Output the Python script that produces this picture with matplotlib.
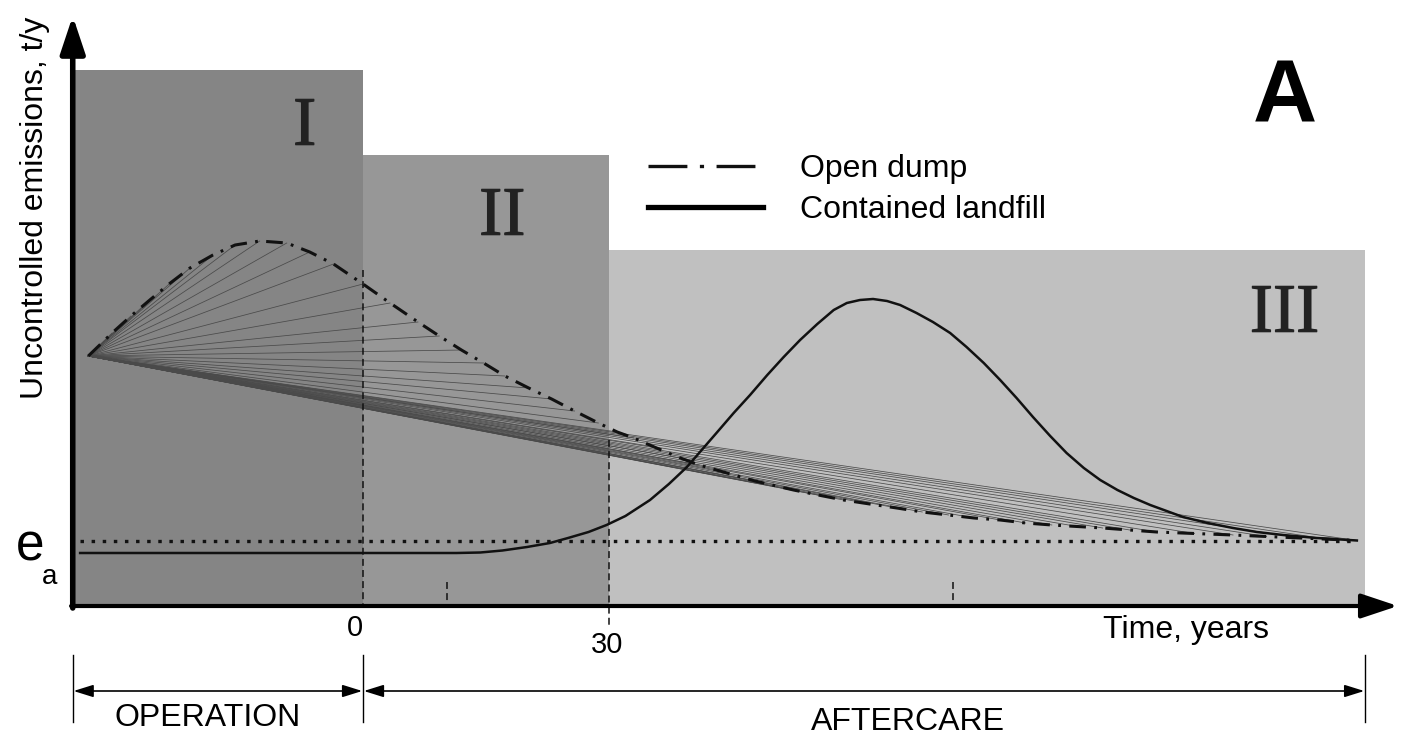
import matplotlib.pyplot as plt
import matplotlib.patheffects as pe
from matplotlib.lines import Line2D

plt.rcParams['font.family'] = ['Liberation Sans', 'DejaVu Sans']
plt.rcParams['lines.scale_dashes'] = False

# phases I, II, III (years, emission units)
phase_labels = ['I', 'II', 'III']
phase_start = [-35.4, 0, 30]
phase_end = [0, 30, 122.2]
phase_top = [53.6, 45.1, 35.6]
phase_colors = ['#858585', '#979797', '#c0c0c0']
phase_label_x = [-7.1, 17.0, 112.4]
phase_label_y = [47.8, 38.8, 29.1]

# open dump curve
dump_t = [-33.5, -30.6, -28.3, -26.0, -23.5, -21.1, -18.3, -15.6, -12.6, -9.3,
          -6.5, -3.6, 0.0, 3.3, 6.7, 9.3, 12.0, 14.7, 17.3, 20.2, 23.0, 25.8,
          28.7, 31.0, 33.0, 35.8, 38.7, 41.0, 43.1, 47.8, 52.5, 55.5, 58.6,
          61.8, 65.1, 68.2, 71.4, 74.5, 77.7, 80.8, 84.0, 87.1, 90.2, 93.5,
          96.8, 101.4, 106.1, 110.2, 114.3, 117.7, 121.2]
dump_e = [25.0, 27.3, 29.0, 30.6, 32.3, 33.8, 35.1, 36.1, 36.5, 36.3,
          35.4, 34.2, 32.2, 30.3, 28.4, 27.0, 25.6, 24.3, 23.0, 21.8, 20.7, 19.5,
          18.3, 17.4, 16.8, 15.8, 14.8, 14.1, 13.6, 12.5, 11.6, 11.1, 10.6,
          10.2, 9.8, 9.4, 9.1, 8.8, 8.6, 8.3, 8.1, 7.95, 7.8, 7.6,
          7.4, 7.25, 7.1, 6.95, 6.8, 6.68, 6.55]

# contained landfill curve
fill_t = [-34.5, 0.0, 11.4, 14.3, 17.0, 20.0, 22.8, 25.0, 27.5, 29.7, 32.0,
          35.0, 37.3, 39.5, 41.3, 43.1, 45.2, 47.2, 49.3, 51.3, 53.3, 55.4,
          57.4, 59.0, 60.6, 62.2, 63.9, 65.5, 67.5, 69.5, 71.6, 73.6, 75.7,
          77.7, 79.7, 81.7, 83.8, 85.8, 87.9, 89.9, 92.0, 94.0, 96.0, 98.0,
          100.0, 103.0, 106.1, 109.0, 112.2, 116.3, 121.2]
fill_e = [5.3, 5.3, 5.3, 5.35, 5.55, 5.9, 6.3, 6.8, 7.4, 8.1, 9.0,
          10.6, 12.2, 13.9, 15.6, 17.3, 19.3, 21.1, 23.1, 24.9, 26.6, 28.2,
          29.6, 30.3, 30.6, 30.7, 30.5, 30.1, 29.3, 28.4, 27.3, 25.9, 24.3,
          22.6, 20.8, 18.9, 17.0, 15.3, 13.8, 12.6, 11.6, 10.8, 10.1, 9.5,
          8.9, 8.3, 7.8, 7.4, 7.1, 6.8, 6.55]

ea = 6.5
small_marks = [10.2, 72.0]

fig = plt.figure(figsize=(14.16, 7.40), dpi=100)
ax = fig.add_axes([0, 0, 1, 1])
ax.set_xlim(-44.27, 128.41)
ax.set_ylim(-13.4, 60.6)
ax.axis('off')

# shaded phases
for s, e, h, c in zip(phase_start, phase_end, phase_top, phase_colors):
    ax.bar(s, h, width=e - s, align='edge', color=c, zorder=0)
for lab, x, y in zip(phase_labels, phase_label_x, phase_label_y):
    ax.text(x, y, lab, fontsize=50, family='Liberation Serif', color='#222222',
            ha='center', va='center',
            path_effects=[pe.withStroke(linewidth=0.8, foreground='#222222')])

# fan of chords from the starting point to the open dump curve
for t, e in zip(dump_t[1:], dump_e[1:]):
    ax.plot([dump_t[0], t], [dump_e[0], e], color='#4a4a4a', lw=0.55, zorder=2)

ax.plot(dump_t, dump_e, color='#111111', lw=2.2, dashes=(12, 6, 2, 6), zorder=3)
ax.plot(fill_t, fill_e, color='#111111', lw=1.8, zorder=3)
ax.plot([-34.5, 121.2], [ea, ea], color='#111111', lw=2.4, dashes=(2.5, 5.5), zorder=3)

# dashed guide lines at 0 and 30 years
ax.plot([0, 0], [33.6, 0], color='#111111', lw=1.1, dashes=(5, 3), zorder=3)
ax.plot([30, 30], [16.6, -1.9], color='#111111', lw=1.1, dashes=(5, 3), zorder=3)
for m in small_marks:
    ax.plot([m, m], [2.4, 0], color='#111111', lw=1.1, dashes=(5, 3), zorder=3)

# axes with arrows
ax.annotate('', xy=(-35.4, 59.0), xytext=(-35.4, -0.2),
            arrowprops=dict(arrowstyle='-|>,head_length=0.9,head_width=0.3',
                            lw=4, color='k', mutation_scale=25, shrinkA=0, shrinkB=0))
ax.annotate('', xy=(126.2, 0), xytext=(-35.6, 0),
            arrowprops=dict(arrowstyle='-|>,head_length=0.9,head_width=0.3',
                            lw=3, color='k', mutation_scale=25, shrinkA=0, shrinkB=0))

ax.text(-40.0, 39.8, 'Uncontrolled emissions, t/y', rotation=90, fontsize=23,
        ha='center', va='center')
ax.text(-40.6, 5.9, 'e', fontsize=37, ha='center', va='center')
ax.text(-38.2, 2.9, 'a', fontsize=20, ha='center', va='center')
ax.text(-1.0, -2.2, '0', fontsize=21, ha='center', va='center')
ax.text(29.8, -3.9, '30', fontsize=21, ha='center', va='center')
ax.text(100.4, -2.4, 'Time, years', fontsize=23, ha='center', va='center')
ax.text(112.4, 50.6, 'A', fontsize=64, fontweight='bold', ha='center', va='center')

# operation / aftercare spans
for x in [-35.4, 0, 122.2]:
    ax.plot([x, x], [-4.9, -11.6], color='k', lw=1.0)
ax.annotate('', xy=(-0.1, -8.5), xytext=(-35.3, -8.5),
            arrowprops=dict(arrowstyle='<|-|>,head_length=0.8,head_width=0.25',
                            lw=1.2, color='k', mutation_scale=15, shrinkA=0, shrinkB=0))
ax.annotate('', xy=(122.1, -8.5), xytext=(0.1, -8.5),
            arrowprops=dict(arrowstyle='<|-|>,head_length=0.8,head_width=0.25',
                            lw=1.2, color='k', mutation_scale=15, shrinkA=0, shrinkB=0))
ax.text(-18.9, -11.2, 'OPERATION', fontsize=23, ha='center', va='center')
ax.text(66.5, -11.6, 'AFTERCARE', fontsize=23, ha='center', va='center')

handles = [Line2D([], [], color='#111111', lw=2.4, dashes=(28, 9, 3, 9)),
           Line2D([], [], color='k', lw=3.8)]
fig.legend(handles, ['Open dump', 'Contained landfill'], loc='upper left',
           bbox_to_anchor=(632 / 1416, 1 - 138 / 740), frameon=False, fontsize=23,
           handlelength=3.6, handletextpad=1.15, labelspacing=0.35, borderpad=0)

fig.savefig('out.png', dpi=100)
